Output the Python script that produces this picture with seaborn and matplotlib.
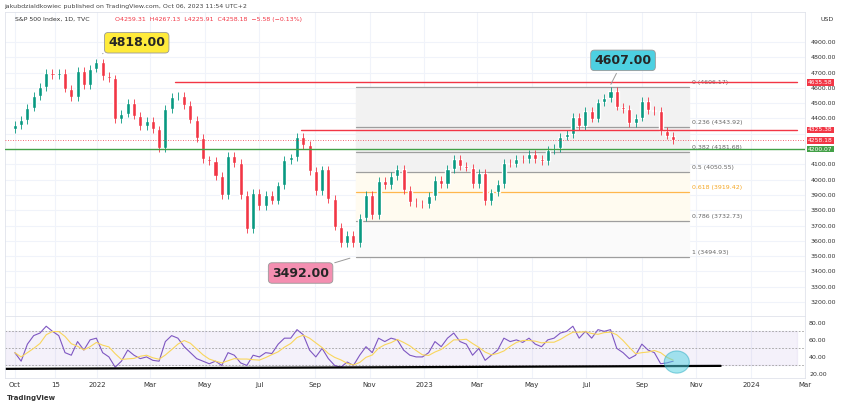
import pandas as pd
import numpy as np
import matplotlib.pyplot as plt
import matplotlib.dates as mdates
from matplotlib.patches import Ellipse
import seaborn as sns

# weekly closes of the S&P 500 (Oct 2021 - Oct 2023)
closes = [4357, 4391, 4471, 4545, 4605,
          4697, 4683, 4698, 4595,
          4538, 4712, 4620, 4726, 4766,
          4677, 4662, 4398, 4432,
          4500, 4419, 4349, 4385,
          4329, 4204, 4463, 4543,
          4546, 4488, 4393, 4272, 4132,
          4123, 4024, 3901, 4158,
          4109, 3901, 3675, 3912,
          3825, 3899, 3863, 3962, 4130,
          4145, 4280, 4228, 4058,
          3924, 4067, 3873, 3693, 3586,
          3639, 3583, 3752, 3901,
          3771, 3993, 3965, 4026,
          4072, 3934, 3852, 3845, 3840,
          3895, 3999, 3973, 4071,
          4136, 4090, 4079, 3970,
          4046, 3862, 3917, 3971, 4109,
          4105, 4138, 4133, 4169,
          4136, 4124, 4192, 4205,
          4282, 4299, 4410, 4348, 4450,
          4399, 4505, 4536, 4582,
          4478, 4464, 4370, 4406,
          4516, 4457, 4450, 4320, 4288,
          4258]

rsi = [45, 35, 55, 65, 68,
       76, 70, 65, 45,
       42, 58, 48, 60, 62,
       45, 40, 28, 35,
       48, 42, 38, 40,
       36, 35, 58, 65,
       62, 52, 45, 38, 35,
       32, 35, 30, 45,
       42, 33, 30, 42,
       40, 45, 44, 55, 62,
       62, 72, 66, 48,
       40, 50, 38, 30, 28,
       34, 30, 42, 52,
       45, 62, 58, 62,
       60, 48, 42, 40, 40,
       45, 58, 52, 62,
       68, 58, 55, 42,
       50, 36, 42, 48, 62,
       58, 60, 57, 62,
       55, 52, 60, 62,
       68, 70, 76, 62, 70,
       62, 72, 70, 72,
       50, 45, 38, 42,
       55, 48, 45, 32, 33,
       35]

fib_ratios = [0, 0.236, 0.382, 0.5, 0.618, 0.786, 1]
fib_prices = [4606.17, 4343.92, 4181.68, 4050.55, 3919.42, 3732.73, 3494.93]
resist_prices = [4635.58, 4325.38]
support_price = 4200.07
last_price = 4258.18
price_ticks = [3200, 3300, 3400, 3500, 3600, 3700, 3800, 3900, 4000, 4100,
               4400, 4500, 4600, 4700, 4800, 4900]
month_ticks = ['2021-10-01', '2021-11-15', '2022-01-01', '2022-03-01', '2022-05-01', '2022-07-01',
               '2022-09-01', '2022-11-01', '2023-01-01', '2023-03-01', '2023-05-01', '2023-07-01',
               '2023-09-01', '2023-11-01', '2024-01-01', '2024-03-01']
month_labels = ['Oct', '15', '2022', 'Mar', 'May', 'Jul', 'Sep', 'Nov', '2023', 'Mar', 'May', 'Jul',
                'Sep', 'Nov', '2024', 'Mar']

dates = pd.date_range('2021-10-01', periods=len(closes), freq='7D')
df = pd.DataFrame({'date': dates, 'close': closes, 'rsi': rsi})
df['open'] = df['close'].shift(1).fillna(4330)
df['rsi_ma'] = df['rsi'].rolling(4, min_periods=1).mean()

sns.set_theme(style='white')
plt.rcParams['font.family'] = 'DejaVu Sans'
fig = plt.figure(figsize=(8.5, 4.07), dpi=100)
ax = fig.add_axes([0.0059, 0.2236, 0.941, 0.7469])
ax_r = fig.add_axes([0.0059, 0.0713, 0.941, 0.1523], sharex=ax)

green, red = '#089981', '#f23645'
xl = (pd.Timestamp('2021-09-20'), pd.Timestamp('2024-02-21'))

# grid
for a in (ax, ax_r):
    for t in month_ticks:
        a.axvline(pd.Timestamp(t), color='#f0f3fa', lw=0.8, zorder=0)
for p in range(3200, 5000, 100):
    ax.axhline(p, color='#f0f3fa', lw=0.8, zorder=0)

# fibonacci box
fx0, fx1 = pd.Timestamp('2022-10-17'), pd.Timestamp('2023-10-24')
ax.fill_between([fx0, fx1], fib_prices[3], fib_prices[0], color='#f2f2f2', zorder=1)
ax.fill_between([fx0, fx1], fib_prices[6], fib_prices[3], color='#fafafa', zorder=1)
ax.fill_between([fx0, fx1], fib_prices[5], fib_prices[3], color='#fffbf0', zorder=1)
for r, p in zip(fib_ratios, fib_prices):
    c = '#ffb74d' if r == 0.618 else '#9e9e9e'
    ax.plot([fx0, fx1], [p, p], color=c, lw=0.9, zorder=2)
    ax.text(pd.Timestamp('2023-10-27'), p + 12, f'{r:g} ({p:.2f})', fontsize=4.5,
            color='#f5a623' if r == 0.618 else '#666666', va='bottom')

# candles
w = 4.5
for _, row in df.iterrows():
    c = green if row['close'] >= row['open'] else red
    lo, hi = sorted([row['open'], row['close']])
    ax.bar(row['date'], max(hi - lo, 4), bottom=lo, width=w, color=c, zorder=3)
    ax.vlines(row['date'], lo - 25, hi + 25, color=c, lw=0.6, zorder=3)

# horizontal levels
ax.plot([pd.Timestamp('2022-03-29'), xl[1]], [resist_prices[0]] * 2, color=red, lw=1, zorder=4)
ax.plot([pd.Timestamp('2022-08-16'), xl[1]], [resist_prices[1]] * 2, color=red, lw=1, zorder=4)
ax.axhline(support_price, color='#43a047', lw=1, zorder=4)
ax.axhline(last_price, color=red, lw=0.6, ls=(0, (1, 2)), zorder=4)

# callouts
def callout(xy, txt_xy, text, fc):
    ax.annotate(text, xy=xy, xytext=txt_xy, fontsize=9, fontweight='bold', ha='center', va='center',
                bbox=dict(boxstyle='round,pad=0.3', fc=fc, ec='#999999', lw=0.6),
                arrowprops=dict(arrowstyle='-', color='#999999', lw=0.7), zorder=6)

callout((pd.Timestamp('2022-01-04'), 4818), (pd.Timestamp('2022-02-14'), 4895), '4818.00', '#ffeb3b')
callout((pd.Timestamp('2022-10-13'), 3492), (pd.Timestamp('2022-08-16'), 3390), '3492.00', '#f48fb1')
callout((pd.Timestamp('2023-07-27'), 4607), (pd.Timestamp('2023-08-11'), 4780), '4607.00', '#4dd0e1')

ax.set_xlim(*xl)
ax.set_ylim(3109, 5096)
ax.yaxis.tick_right()
ax.set_yticks(price_ticks)
ax.set_yticklabels([f'{p:.2f}' for p in price_ticks], fontsize=4.5, color='#333333')
ax.tick_params(axis='y', length=0, pad=4)
ax.tick_params(axis='x', labelbottom=False, length=0)
for s in ax.spines.values():
    s.set_color('#e0e3eb')
    s.set_linewidth(0.6)

# right price tags
for p, c in [(resist_prices[0], red), (resist_prices[1], red), (last_price, red), (support_price, '#43a047')]:
    ax.text(1.004, (p - 3109) / (5096 - 3109), f'{p:.2f}', transform=ax.transAxes, fontsize=4.3,
            color='white', va='center', ha='left',
            bbox=dict(boxstyle='square,pad=0.15', fc=c, ec='none'), zorder=7)

# RSI panel
ax_r.fill_between(xl, 30, 70, color='#7e57c2', alpha=0.08, zorder=0)
for lvl in (30, 50, 70):
    ax_r.axhline(lvl, color='#9e9e9e', lw=0.6, ls=(0, (2, 2)))
sns.lineplot(data=df, x='date', y='rsi', ax=ax_r, color='#7e57c2', lw=0.8)
sns.lineplot(data=df, x='date', y='rsi_ma', ax=ax_r, color='#f9d65c', lw=0.8)
ax_r.plot([xl[0], pd.Timestamp('2023-11-28')], [26, 29.5], color='black', lw=1.6)
ax_r.add_patch(Ellipse((mdates.date2num(pd.Timestamp('2023-10-10')), 34), 28, 26,
                       fc='#4dd0e1', ec='#26a9c0', alpha=0.5, lw=0.8, zorder=5))
ax_r.set_ylim(15.3, 88)
ax_r.yaxis.tick_right()
ax_r.set_yticks([20, 40, 60, 80])
ax_r.set_yticklabels(['20.00', '40.00', '60.00', '80.00'], fontsize=4.5, color='#333333')
ax_r.set_xticks([pd.Timestamp(t) for t in month_ticks])
ax_r.set_xticklabels(month_labels, fontsize=5, color='#333333')
ax_r.tick_params(length=0, pad=3)
ax_r.set_xlabel('')
ax_r.set_ylabel('')
for s in ax_r.spines.values():
    s.set_color('#e0e3eb')
    s.set_linewidth(0.6)

fig.text(0.005, 0.985, 'jakubdzialdkowiec published on TradingView.com, Oct 06, 2023 11:54 UTC+2',
         fontsize=4.5, color='#444444', va='center')
fig.text(0.018, 0.952, 'S&P 500 Index, 1D, TVC  ', fontsize=4.5, color='#333333', va='center')
fig.text(0.135, 0.952, 'O4259.31  H4267.13  L4225.91  C4258.18  −5.58 (−0.13%)', fontsize=4.5,
         color=red, va='center')
fig.text(0.965, 0.952, 'USD', fontsize=4.5, color='#333333', va='center')
fig.text(0.008, 0.022, 'TradingView', fontsize=5, color='#333333', va='center', fontweight='bold')

fig.savefig('out.png', dpi=100)
